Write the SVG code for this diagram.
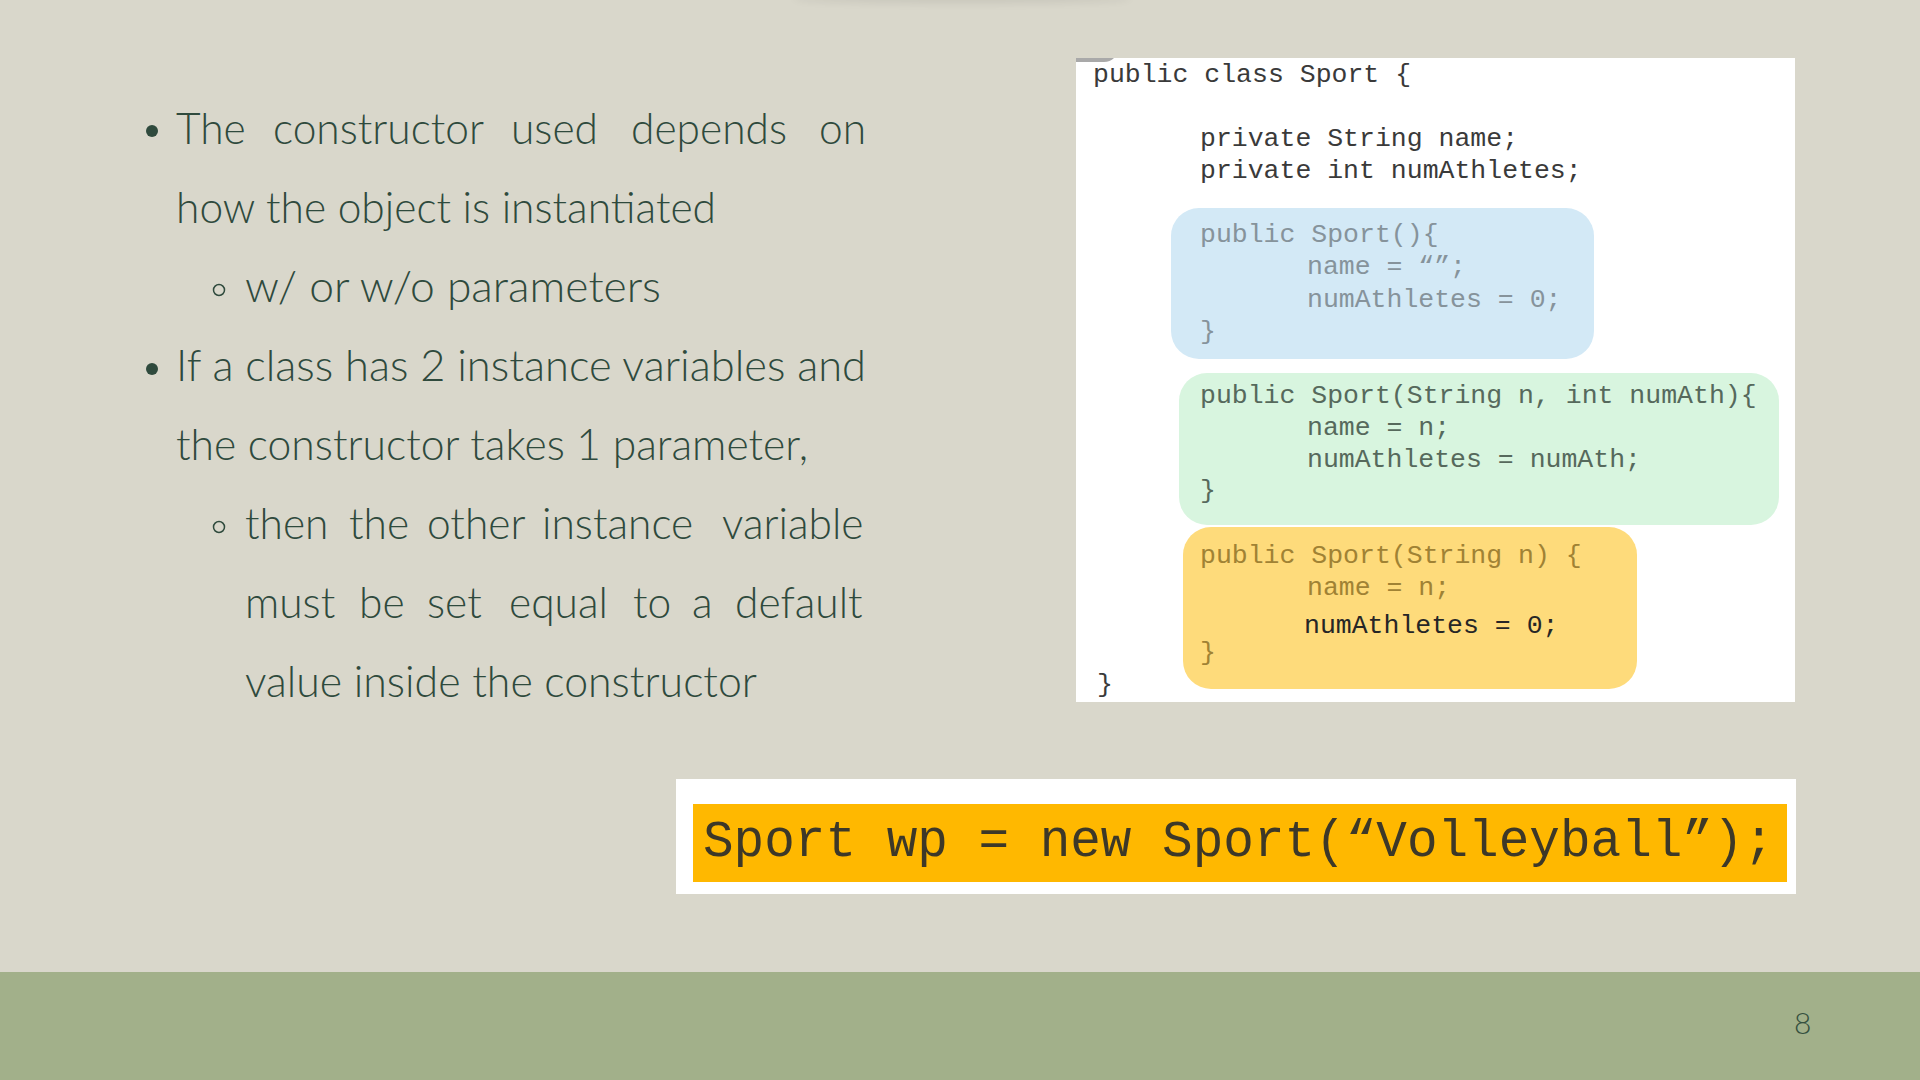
<svg xmlns="http://www.w3.org/2000/svg" width="1920" height="1080" viewBox="0 0 1920 1080">
  <defs>
    <filter id="blur" x="-20%" y="-200%" width="140%" height="500%">
      <feGaussianBlur stdDeviation="4"/>
    </filter>
    <style>
      .body { font-family: "Lato", "Open Sans", "Liberation Sans", sans-serif; font-weight: 300; font-size: 42.5px; fill: #2f4a3d; }
      .code { font-family: "Liberation Mono", "DejaVu Sans Mono", monospace; font-size: 26.5px; white-space: pre; }
      .main { fill: #3a3a3a; }
      .blue { fill: #86939b; }
      .green { fill: #56695c; }
      .yellow { fill: #a08234; }
      .dark { fill: #262626; }
      .big { font-family: "Liberation Mono", "DejaVu Sans Mono", monospace; font-size: 51px; fill: #3d3828; white-space: pre; }
      .page { font-family: "Lato", "Open Sans", "Liberation Sans", sans-serif; font-weight: 300; font-size: 30px; fill: #35503f; }
    </style>
  </defs>

  <!-- background -->
  <rect x="0" y="0" width="1920" height="1080" fill="#d9d7cb"/>
  <ellipse cx="962" cy="-2" rx="170" ry="5" fill="#000" opacity="0.08" filter="url(#blur)"/>
  <rect x="0" y="972" width="1920" height="108" fill="#a2b08a"/>
  <text class="page" x="1794" y="1034">8</text>

  <!-- bullet text -->
  <g id="bullets">
    <circle cx="152" cy="131" r="6" fill="#2f4a3d"/>
    <text class="body" y="144">
      <tspan x="176">The</tspan><tspan x="273">constructor</tspan><tspan x="511">used</tspan><tspan x="631">depends</tspan><tspan x="819">on</tspan>
    </text>
    <text class="body" x="176" y="223" textLength="540" lengthAdjust="spacingAndGlyphs">how the object is instantiated</text>

    <circle cx="219" cy="290" r="5.5" fill="none" stroke="#2f4a3d" stroke-width="1.5"/>
    <text class="body" x="245" y="302" textLength="416" lengthAdjust="spacingAndGlyphs">w/ or w/o parameters</text>

    <circle cx="152" cy="369" r="6" fill="#2f4a3d"/>
    <text class="body" x="176" y="381" textLength="690" lengthAdjust="spacingAndGlyphs">If a class has 2 instance variables and</text>
    <text class="body" x="176" y="460" textLength="632" lengthAdjust="spacingAndGlyphs">the constructor takes 1 parameter,</text>

    <circle cx="219" cy="527" r="5.5" fill="none" stroke="#2f4a3d" stroke-width="1.5"/>
    <text class="body" y="539">
      <tspan x="245">then</tspan><tspan x="349">the</tspan><tspan x="427">other</tspan><tspan x="542">instance</tspan><tspan x="722">variable</tspan>
    </text>
    <text class="body" y="618">
      <tspan x="245">must</tspan><tspan x="359">be</tspan><tspan x="427">set</tspan><tspan x="509">equal</tspan><tspan x="633">to</tspan><tspan x="692">a</tspan><tspan x="735">default</tspan>
    </text>
    <text class="body" x="245" y="697" textLength="512" lengthAdjust="spacingAndGlyphs">value inside the constructor</text>
  </g>

  <!-- code panel -->
  <g id="code-panel">
    <rect x="1076" y="58" width="719" height="644" fill="#ffffff"/>
    <path d="M1076 58 H1114 Q1110 62 1104 62 H1076 Z" fill="#a9a9a9"/>
    <text class="code main" x="1093" y="82">public class Sport {</text>
    <text class="code main" x="1200" y="146">private String name;</text>
    <text class="code main" x="1200" y="178">private int numAthletes;</text>

    <g id="ctor-default">
      <rect x="1171" y="208" width="423" height="151" rx="28" fill="#d3e9f6"/>
      <text class="code blue" x="1200" y="242">public Sport(){</text>
      <text class="code blue" x="1307" y="274">name = “”;</text>
      <text class="code blue" x="1307" y="307">numAthletes = 0;</text>
      <text class="code blue" x="1200" y="339">}</text>
    </g>

    <g id="ctor-two">
      <rect x="1179" y="373" width="600" height="152" rx="28" fill="#d8f5df"/>
      <text class="code green" x="1200" y="403">public Sport(String n, int numAth){</text>
      <text class="code green" x="1307" y="435">name = n;</text>
      <text class="code green" x="1307" y="467">numAthletes = numAth;</text>
      <text class="code green" x="1200" y="498">}</text>
    </g>

    <g id="ctor-one">
      <rect x="1183" y="527" width="454" height="162" rx="28" fill="#fedb7b"/>
      <text class="code yellow" x="1200" y="563">public Sport(String n) {</text>
      <text class="code yellow" x="1307" y="595">name = n;</text>
      <text class="code dark" x="1304" y="633">numAthletes = 0;</text>
      <text class="code yellow" x="1200" y="660">}</text>
    </g>

    <text class="code main" x="1097" y="692">}</text>
  </g>

  <!-- instantiation -->
  <g id="instantiation">
    <rect x="676" y="779" width="1120" height="115" fill="#ffffff"/>
    <rect x="693" y="804" width="1094" height="78" fill="#ffb800"/>
    <text class="big" x="703" y="856">Sport wp = new Sport(“Volleyball”);</text>
  </g>

  <g id="connectors"/>
</svg>
